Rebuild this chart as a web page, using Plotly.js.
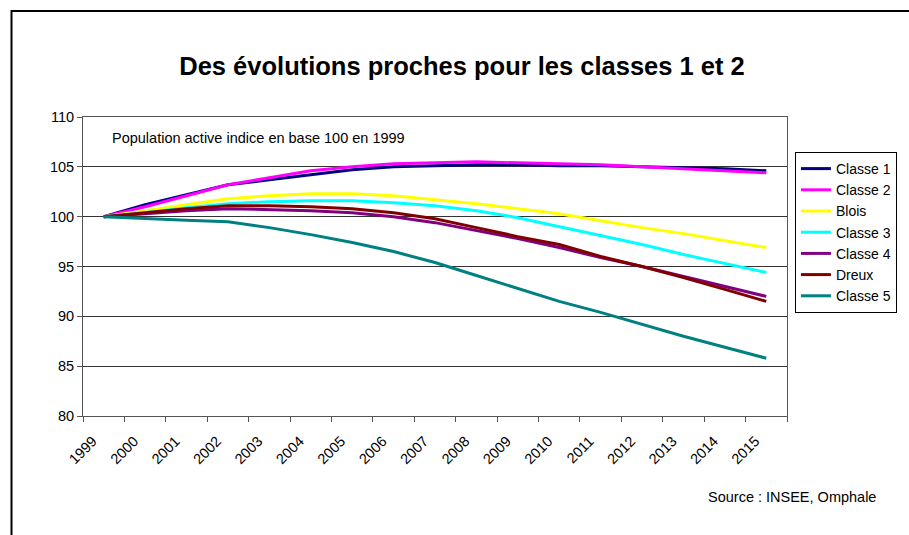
<!DOCTYPE html>
<html>
<head>
<meta charset="utf-8">
<script src="https://cdn.plot.ly/plotly-3.0.1.min.js"></script>
<style>
  html, body { margin: 0; padding: 0; background: #fff; }
  #graph { width: 909px; height: 535px; }
</style>
</head>
<body>
<div id="graph"></div>
<script>
// === Données (indice base 100 en 1999) ===
const annees = ['1999', '2000', '2001', '2002', '2003', '2004', '2005', '2006', '2007',
  '2008', '2009', '2010', '2011', '2012', '2013', '2014', '2015'];

const classe1 = [100, 101.2, 102.2, 103.2, 103.7, 104.2, 104.7, 105.0, 105.1,
  105.2, 105.2, 105.1, 105.1, 105.0, 104.9, 104.8, 104.6];
const classe2 = [100, 101.0, 102.1, 103.2, 103.9, 104.6, 105.0, 105.3, 105.4,
  105.5, 105.4, 105.3, 105.2, 105.0, 104.8, 104.6, 104.4];
const blois = [100, 100.6, 101.2, 101.8, 102.1, 102.3, 102.3, 102.1, 101.7,
  101.3, 100.8, 100.3, 99.6, 98.9, 98.3, 97.6, 96.9];
const classe3 = [100, 100.4, 100.9, 101.3, 101.5, 101.6, 101.6, 101.4, 101.1,
  100.6, 99.9, 99.0, 98.1, 97.2, 96.2, 95.3, 94.4];
const classe4 = [100, 100.3, 100.6, 100.8, 100.7, 100.6, 100.4, 100.0, 99.4,
  98.6, 97.8, 96.9, 95.9, 95.0, 94.0, 93.0, 92.0];
const dreux = [100, 100.4, 100.8, 101.1, 101.1, 101.0, 100.8, 100.4, 99.8,
  98.9, 98.0, 97.2, 96.0, 95.0, 93.9, 92.7, 91.5];
const classe5 = [100, 99.8, 99.65, 99.5, 98.9, 98.2, 97.4, 96.5, 95.4,
  94.1, 92.8, 91.5, 90.4, 89.2, 88.0, 86.9, 85.8];

const noms = ['Classe 1', 'Classe 2', 'Blois', 'Classe 3', 'Classe 4', 'Dreux', 'Classe 5'];
const series = [classe1, classe2, blois, classe3, classe4, dreux, classe5];
const couleurs = ['#000080', '#FF00FF', '#FFFF00', '#00FFFF', '#800080', '#800000', '#008080'];

const POLICE = 'Liberation Sans, Arial, sans-serif';

// marges de la zone de tracé (en pixels)
const W = 909, H = 535;
const M = { l: 83, r: 117, t: 117, b: 119 };
const pw = W - M.l - M.r, ph = H - M.t - M.b;
const px = v => (v - M.l) / pw;          // pixel -> paper x
const py = v => (H - M.b - v) / ph;      // pixel -> paper y

const traces = series.map((s, i) => ({
  x: annees,
  y: s,
  mode: 'lines',
  name: noms[i],
  line: { color: couleurs[i], width: 3 }
}));

const layout = {
  width: W,
  height: H,
  margin: M,
  paper_bgcolor: '#ffffff',
  plot_bgcolor: '#ffffff',
  font: { family: POLICE, size: 14.5, color: '#000' },
  showlegend: true,
  title: {
    text: '<b>Des évolutions proches pour les classes 1 et 2</b>',
    font: { family: POLICE, size: 25.5, color: '#000' },
    xref: 'container', yref: 'container',
    x: 462 / W, xanchor: 'center',
    y: 1 - 66 / H, yanchor: 'middle'
  },
  xaxis: {
    type: 'category',
    range: [-0.5, 16.5],
    tickson: 'boundaries',
    ticks: 'outside',
    ticklen: 5,
    tickcolor: '#555',
    tickangle: -45,
    ticklabelstandoff: 10,
    ticklabelshift: -11,
    tickfont: { family: POLICE, size: 14.5, color: '#000' },
    showgrid: false,
    showline: true,
    linecolor: '#555',
    linewidth: 1,
    mirror: true,
    zeroline: false
  },
  yaxis: {
    range: [80, 110],
    dtick: 5,
    ticks: 'outside',
    ticklen: 5,
    tickcolor: '#555',
    tickfont: { family: POLICE, size: 14.5, color: '#000' },
    showgrid: true,
    gridcolor: '#333',
    gridwidth: 1,
    showline: true,
    linecolor: '#555',
    linewidth: 1,
    mirror: true,
    zeroline: false
  },
  legend: {
    x: px(800), xanchor: 'left',
    y: py(152), yanchor: 'top',
    bgcolor: '#ffffff',
    bordercolor: '#000',
    borderwidth: 1,
    font: { family: POLICE, size: 14, color: '#000' }
  },
  annotations: [
    {
      text: 'Population active indice en base 100 en 1999',
      xref: 'paper', yref: 'paper',
      x: px(110), xanchor: 'left',
      y: py(138), yanchor: 'middle',
      showarrow: false,
      font: { family: POLICE, size: 14.5, color: '#000' }
    },
    {
      text: 'Source : INSEE, Omphale',
      xref: 'paper', yref: 'paper',
      x: px(884), xanchor: 'right',
      y: py(497), yanchor: 'middle',
      showarrow: false,
      font: { family: POLICE, size: 14.5, color: '#000' }
    }
  ],
  shapes: [
    // cadre du graphique (bords droit et bas hors image)
    {
      type: 'rect', xref: 'paper', yref: 'paper',
      x0: px(11), x1: px(960), y0: py(560), y1: py(11),
      line: { color: '#000', width: 2 },
      fillcolor: 'rgba(0,0,0,0)',
      layer: 'below'
    }
  ]
};

Plotly.newPlot('graph', traces, layout, { displayModeBar: false, staticPlot: true });
</script>
</body>
</html>
